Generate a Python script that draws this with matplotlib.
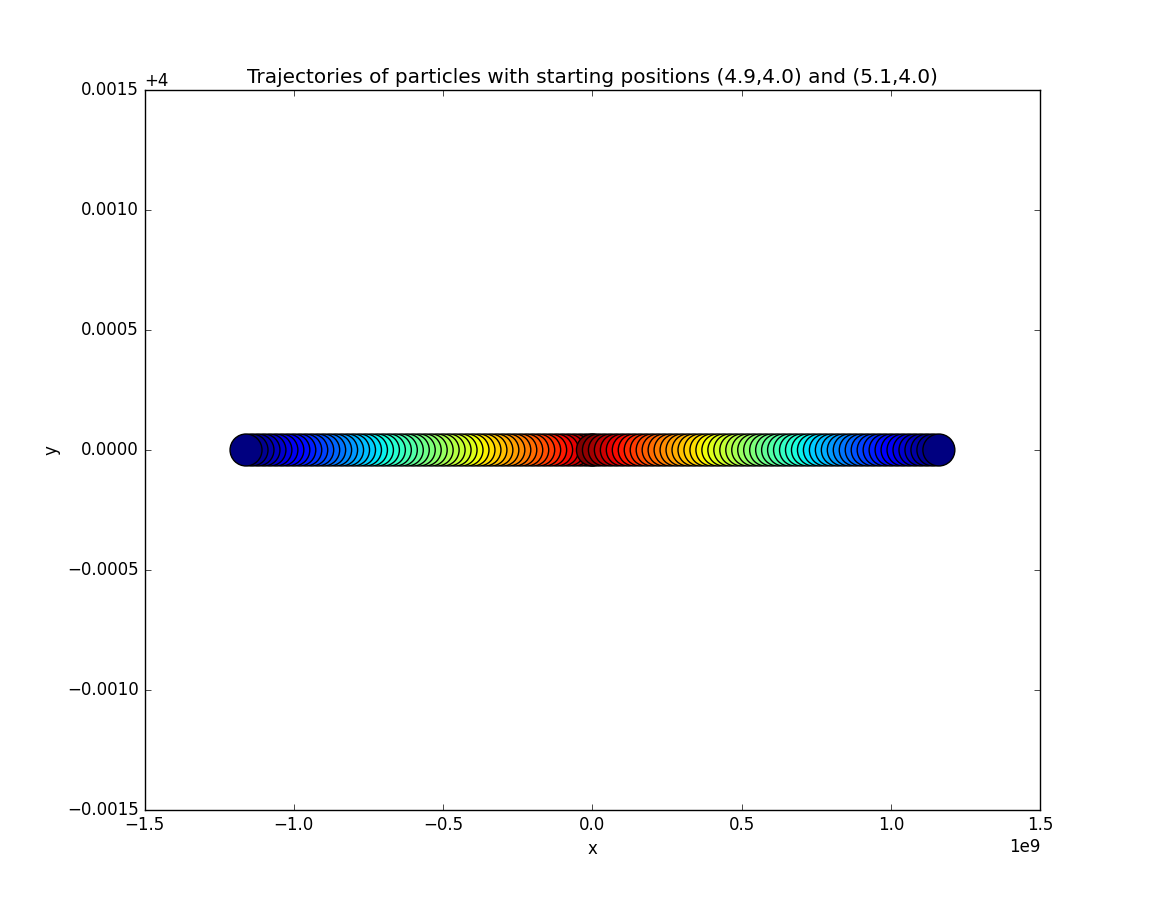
import numpy as np
import matplotlib
matplotlib.use('Agg')
import matplotlib.pyplot as plt

plt.style.use('classic')

# x positions (units of 1e9) for each particle, from start to end of run
x_right = [0.00, 0.02, 0.04, 0.06, 0.08, 0.10, 0.12, 0.14, 0.16, 0.18,
           0.20, 0.22, 0.24, 0.26, 0.28, 0.30, 0.32, 0.34, 0.36, 0.38,
           0.40, 0.42, 0.44, 0.46, 0.48, 0.50, 0.52, 0.54, 0.56, 0.58,
           0.60, 0.62, 0.64, 0.66, 0.68, 0.70, 0.72, 0.74, 0.76, 0.78,
           0.80, 0.82, 0.84, 0.86, 0.88, 0.90, 0.92, 0.94, 0.96, 0.98,
           1.00, 1.02, 1.04, 1.06, 1.08, 1.10, 1.12, 1.14, 1.16]
x_left = [-v for v in x_right]
y_right = [4.0] * len(x_right)
y_left = [4.0] * len(x_left)
steps = list(range(len(x_right)))

fig = plt.figure(figsize=(11.56, 9), dpi=100)
ax = fig.add_subplot(111)

c = [len(steps) - 1 - s for s in steps]
for xs, ys in [(x_left, y_left), (x_right, y_right)]:
    ax.scatter(np.array(xs) * 1e9, ys, c=c, cmap='jet', s=530,
               edgecolors='black', linewidths=1, zorder=3)

ax.set_xlim(-1.5e9, 1.5e9)
ax.set_ylim(3.9985, 4.0015)
ax.set_yticks(np.arange(3.9985, 4.00151, 0.0005))
ax.set_title('Trajectories of particles with starting positions (4.9,4.0) and (5.1,4.0)')
ax.set_xlabel('x')
ax.set_ylabel('y')

fig.savefig('out.png', dpi=100)
